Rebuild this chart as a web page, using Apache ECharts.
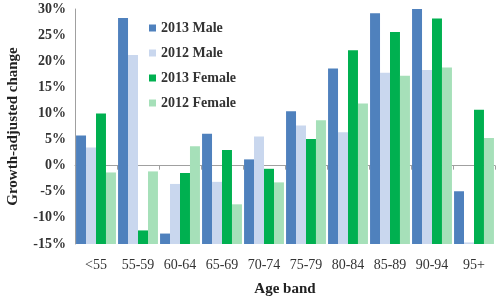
<!DOCTYPE html>
<html><head><meta charset="utf-8">
<script src="https://cdn.jsdelivr.net/npm/echarts@6/dist/echarts.min.js"></script>
<style>html,body{margin:0;padding:0;background:#fff}#c{width:500px;height:296px}</style>
</head><body><div id="c"></div>
<script>
var categories = ['<55','55-59','60-64','65-69','70-74','75-79','80-84','85-89','90-94','95+'];
var male2013   = [5.8, 28.3, -13.0, 6.1, 1.2, 10.4, 18.6, 29.2, 30.2, -4.9];
var male2012   = [3.5, 21.2, -3.5, -3.1, 5.6, 7.7, 6.4, 17.8, 18.3, -14.7];
var female2013 = [10.0, -12.4, -1.4, 3.0, -0.6, 5.1, 22.1, 25.6, 28.2, 10.7];
var female2012 = [-1.3, -1.1, 3.7, -7.4, -3.2, 8.7, 11.9, 17.2, 18.8, 5.3];
var yTicks = [-15, -10, -5, 0, 5, 10, 15, 20, 25, 30];

var seriesNames = ['2013 Male','2012 Male','2013 Female','2012 Female'];
var seriesData = [male2013, male2012, female2013, female2012];
var colors = ['#4f81bd','#c9d7ee','#00b050','#a6e0b9'];
var axisMin = yTicks[0], axisMax = yTicks[yTicks.length-1];
var font = '"Liberation Serif", "DejaVu Serif", serif';

var series = [];
seriesData.forEach(function(d, i){
  // Excel-style: bars rise from the bottom of the value axis
  series.push({
    name: 'base'+i, type: 'bar', stack: 's'+i, stackStrategy: 'all',
    data: d.map(function(){ return axisMin; }),
    itemStyle: {color: 'rgba(0,0,0,0)'}, silent: true,
    barGap: '0%', barCategoryGap: '5%'
  });
  series.push({
    name: seriesNames[i], type: 'bar', stack: 's'+i, stackStrategy: 'all',
    data: d.map(function(v){ return v - axisMin; }),
    itemStyle: {color: colors[i]},
    barGap: '0%', barCategoryGap: '5%'
  });
});

var chart = echarts.init(document.getElementById('c'), null, {renderer:'canvas'});
chart.setOption({
  animation: false,
  color: colors,
  grid: {left: 75, right: 5, top: 9, bottom: 52, containLabel: false, outerBoundsMode: 'none'},
  legend: {
    data: seriesNames, orient: 'vertical', left: 144, top: 16,
    itemWidth: 7, itemHeight: 7, itemGap: 11, icon: 'rect',
    textStyle: {fontFamily: font, fontSize: 14, fontWeight: 'bold', color: '#333'}
  },
  xAxis: {
    type: 'category', data: categories,
    name: 'Age band', nameLocation: 'middle', nameGap: 38,
    nameTextStyle: {fontFamily: font, fontSize: 15, fontWeight: 'bold', color: '#222'},
    axisLine: {lineStyle: {color: '#a0a0a0'}},
    axisTick: {show: true, length: 4, lineStyle: {color: '#a0a0a0'}},
    axisLabel: {fontFamily: font, fontSize: 14, color: '#333', margin: 14, interval: 0}
  },
  yAxis: {
    type: 'value', min: axisMin, max: axisMax, interval: 5,
    name: 'Growth-adjusted change', nameLocation: 'middle', nameGap: 54,
    nameTextStyle: {fontFamily: font, fontSize: 15, fontWeight: 'bold', color: '#222'},
    axisLine: {show: true, lineStyle: {color: '#a0a0a0'}},
    axisTick: {show: false},
    splitLine: {show: false},
    axisLabel: {fontFamily: font, fontSize: 14, fontWeight: 'bold', color: '#333', margin: 9,
      formatter: function(v){ return v + '%'; }}
  },
  series: series
});
</script></body></html>
